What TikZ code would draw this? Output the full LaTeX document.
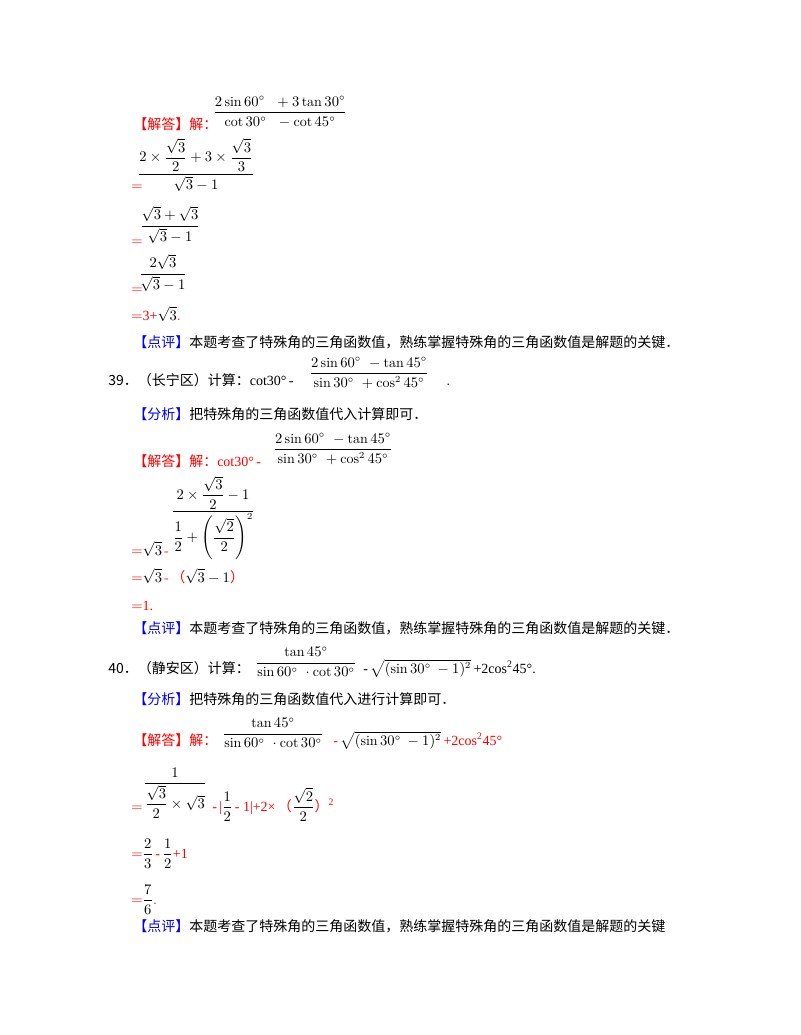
\documentclass[tikz,border=0pt]{standalone}
\usepackage{amsmath}
\usepackage{fontspec}
\newfontfamily\cjk{Noto Sans CJK SC}
\newfontfamily\ser{Liberation Serif}
\definecolor{rd}{RGB}{255,0,0}
\definecolor{bl}{RGB}{0,0,255}
\begin{document}
\begin{tikzpicture}[x=0.75pt,y=-0.75pt,
  t/.style={anchor=base west,inner sep=0pt,font=\fontsize{10.5}{12}\selectfont},
  f/.style={anchor=center,inner sep=0pt,font=\fontsize{10.5}{12}\selectfont}]
\useasboundingbox[fill=white] (0,0) rectangle (800,1035);
% ---- first solution
\node[t] (a1) at (133,129) {\cjk\textcolor{rd}{【解答】解：}};
\node[f] (a1f) at (280,112) {$\dfrac{2\sin60^\circ\ \ +3\tan30^\circ}{\cot30^\circ\ \ -\cot45^\circ}$};
\node[t] (a2) at (131,190) {\textcolor{rd}{$=$}};
\node[f] (a2f) at (196,165) {$\dfrac{2\times\dfrac{\sqrt3}{2}+3\times\dfrac{\sqrt3}{3}}{\sqrt3-1}$};
\node[t] (a3) at (131,245) {\textcolor{rd}{$=$}};
\node[f] (a3f) at (170,225) {$\dfrac{\sqrt3+\sqrt3}{\sqrt3-1}$};
\node[t] (a4) at (131,293) {\textcolor{rd}{$=$}};
\node[f] (a4f) at (163,273) {$\dfrac{2\sqrt3}{\sqrt3-1}$};
\node[t] (a5) at (131,320) {\textcolor{rd}{$=$}\textcolor{rd}{\ser 3+}$\sqrt3$\textcolor{rd}{.}};
\node[t] (a6) at (133,347) {\cjk\textcolor{bl}{【点评】}本题考查了特殊角的三角函数值，熟练掌握特殊角的三角函数值是解题的关键．};
% ---- 39
\node[t] (b1) at (108,385) {\cjk 39．（长宁区）计算：{\ser cot30°\,-}};
\node[f] (b1f) at (369,373) {$\dfrac{2\sin60^\circ\ -\tan45^\circ}{\sin30^\circ\ +\cos^245^\circ}$};
\node[t] (b1d) at (446,385) {.};
\node[t] (b2) at (133,419) {\cjk\textcolor{bl}{【分析】}把特殊角的三角函数值代入计算即可．};
\node[t] (b3) at (133,466) {\cjk\textcolor{rd}{【解答】解：}{\ser\textcolor{rd}{cot30°\,-}}};
\node[f] (b3f) at (333,449) {$\dfrac{2\sin60^\circ\ -\tan45^\circ}{\sin30^\circ\ +\cos^245^\circ}$};
\node[t] (b4) at (131,555) {\textcolor{rd}{$=$}$\sqrt3$\,\textcolor{rd}{-}};
\node[f] (b4f) at (213,518) {$\dfrac{2\times\dfrac{\sqrt3}{2}-1}{\dfrac12+\left(\dfrac{\sqrt2}{2}\right)^2}$};
\node[t] (b5) at (131,582) {\textcolor{rd}{$=$}$\sqrt3$\,\textcolor{rd}{-\,{\cjk（}}$\sqrt3-1$\textcolor{rd}{\cjk）}};
\node[t] (b6) at (131,610) {\textcolor{rd}{$=$\ser 1.}};
\node[t] (b7) at (133,633) {\cjk\textcolor{bl}{【点评】}本题考查了特殊角的三角函数值，熟练掌握特殊角的三角函数值是解题的关键．};
% ---- 40
\node[t] (c1) at (108,673) {\cjk 40．（静安区）计算：};
\node[f] (c1f) at (306,662) {$\dfrac{\tan45^\circ}{\sin60^\circ\ \cdot\cot30^\circ}$};
\node[t] (c1b) at (363,673) {\ser -\,$\sqrt{(\sin30^\circ\ -1)^2}$\,{\ser +2cos\textsuperscript{2}45°.}};
\node[t] (c2) at (133,704) {\cjk\textcolor{bl}{【分析】}把特殊角的三角函数值代入进行计算即可．};
\node[t] (c3) at (133,745) {\cjk\textcolor{rd}{【解答】解：}};
\node[f] (c3f) at (273,733) {$\dfrac{\tan45^\circ}{\sin60^\circ\ \cdot\cot30^\circ}$};
\node[t] (c3b) at (333,745) {\ser\textcolor{rd}{-}\,$\sqrt{(\sin30^\circ\ -1)^2}$\,\textcolor{rd}{+2cos\textsuperscript{2}45°}};
\node[t] (c4) at (131,811) {\textcolor{rd}{$=$}};
\node[f] (c4f) at (175,793) {$\dfrac{1}{\dfrac{\sqrt3}{2}\times\sqrt3}$};
\node[t] (c4b) at (212,811) {\ser\textcolor{rd}{-\,|}$\dfrac12$\,\textcolor{rd}{- 1|+2×}\,\textcolor{rd}{\cjk（}$\dfrac{\sqrt2}{2}$\textcolor{rd}{\cjk）}\textcolor{rd}{\textsuperscript{2}}};
\node[t] (c5) at (131,858) {\textcolor{rd}{$=$}$\dfrac23$\,\textcolor{rd}{\ser -}\,$\dfrac12$\textcolor{rd}{\ser +1}};
\node[t] (c6) at (131,904) {\textcolor{rd}{$=$}$\dfrac76$\textcolor{rd}{.}};
\node[t] (c7) at (133,931) {\cjk\textcolor{bl}{【点评】}本题考查了特殊角的三角函数值，熟练掌握特殊角的三角函数值是解题的关键};
\end{tikzpicture}
\end{document}
